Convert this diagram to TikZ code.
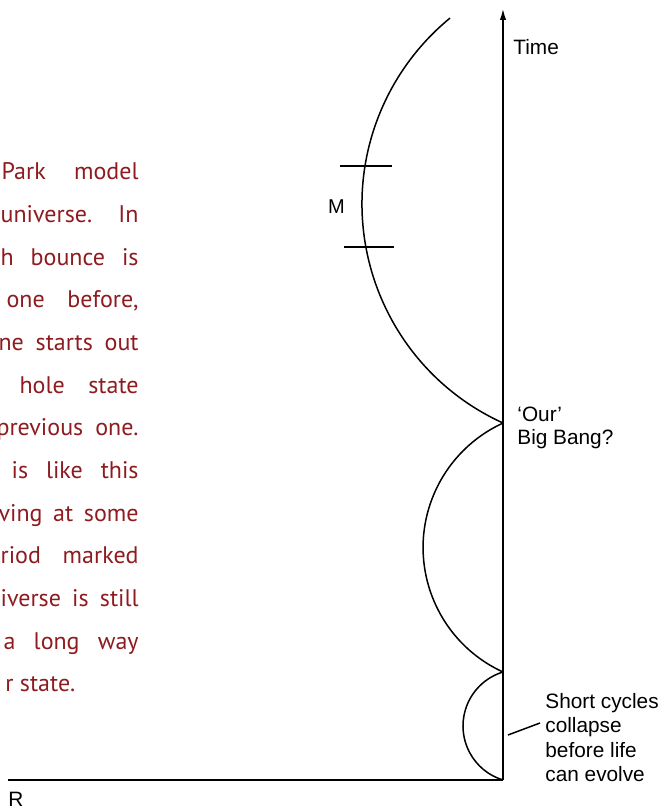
\documentclass[tikz,border=0pt]{standalone}
\usepackage{fontspec}
\setmainfont{Liberation Sans}
\newfontfamily\captionfont{PT Sans}
\usetikzlibrary{arrows.meta}
\definecolor{captionred}{HTML}{8E1B1F}

\begin{document}
\begin{tikzpicture}[x=0.5pt, y=0.5pt,
caption/.style={anchor=base east, inner sep=0pt, text=captionred,
font={\captionfont\fontsize{12}{12}\selectfont}},
axislabel/.style={anchor=base west, inner sep=0pt, align=left,
font={\fontsize{10.4}{12.3}\selectfont}},
cycle/.style={line width=0.75pt},
axis/.style={line width=1pt}]

\useasboundingbox (0,0) rectangle (669,809);
\clip (0,0) rectangle (669,809);

% axes
\coordinate (origin) at (503,29);
\coordinate (rend) at (8,29);
\coordinate (tend) at (503,801);

\draw[axis] (rend) -- (origin);
\draw[axis, -{Latex[length=6pt,width=3.2pt]}] (origin) -- (tend);

\node [axislabel] (time) at (513,754) {Time};
\node [axislabel] (rlabel) at (8,3) {R};


% bounces
\coordinate (bounce1) at (503,137);
\coordinate (bounce2) at (503,386);

\draw[cycle] (origin) arc[start angle=253.06, end angle=106.94, radius=56.45];
\draw[cycle] (bounce1) arc[start angle=245.4, end angle=114.6, radius=136.9];
\draw[cycle] (bounce2) arc[start angle=245.56, end angle=129.34, radius=240.5];


% marked period
\coordinate (m1a) at (340,643);
\coordinate (m1b) at (392,643);
\coordinate (m2a) at (344,562);
\coordinate (m2b) at (394,562);
\draw[cycle] (m1a) -- (m1b);
\draw[cycle] (m2a) -- (m2b);

\node [inner sep=0pt, font={\fontsize{10}{10}\selectfont}] (mlabel) at (336.5,602) {M};


% base anchor sits on the last line
\node [axislabel, font={\fontsize{10.4}{11.7}\selectfont}] (ourbang)
 at (517,364) {‘Our’\\Big Bang?};

\node [axislabel] (short) at (545,27) {Short cycles\\collapse\\before life\\can evolve};

\coordinate (ptr) at (508,74);
\coordinate (ptrend) at (540,86);
\draw[cycle] (ptr) -- (ptrend);


% caption text, cut off at the left
\node [caption] (c1) at (139,629) {\makebox[68.5pt][s]{Park model}};
\node [caption] (c2) at (139,586.3) {\makebox[69pt][s]{universe. In}};
\node [caption] (c3) at (139,543.7) {\makebox[69pt][s]{h bounce is}};
\node [caption] (c4) at (139,501) {\makebox[66pt][s]{one before,}};
\node [caption] (c5) at (139,458.3) {\makebox[70pt][s]{ne starts out}};
\node [caption] (c6) at (139,415.7) {\makebox[59.5pt][s]{hole state}};
\node [caption] (c7) at (139,373) {\makebox[71pt][s]{previous one.}};
\node [caption] (c8) at (139,330.3) {\makebox[63.5pt][s]{is like this}};
\node [caption] (c9) at (139,287.7) {\makebox[70pt][s]{ving at some}};
\node [caption] (c10) at (139,245) {\makebox[69pt][s]{riod marked}};
\node [caption] (c11) at (139,202.3) {\makebox[69pt][s]{iverse is still}};
\node [caption] (c12) at (139,159.7) {\makebox[67.5pt][s]{a long way}};
\node [caption, anchor=base west] (c13) at (5,117) {r state.};

\end{tikzpicture}
\end{document}
